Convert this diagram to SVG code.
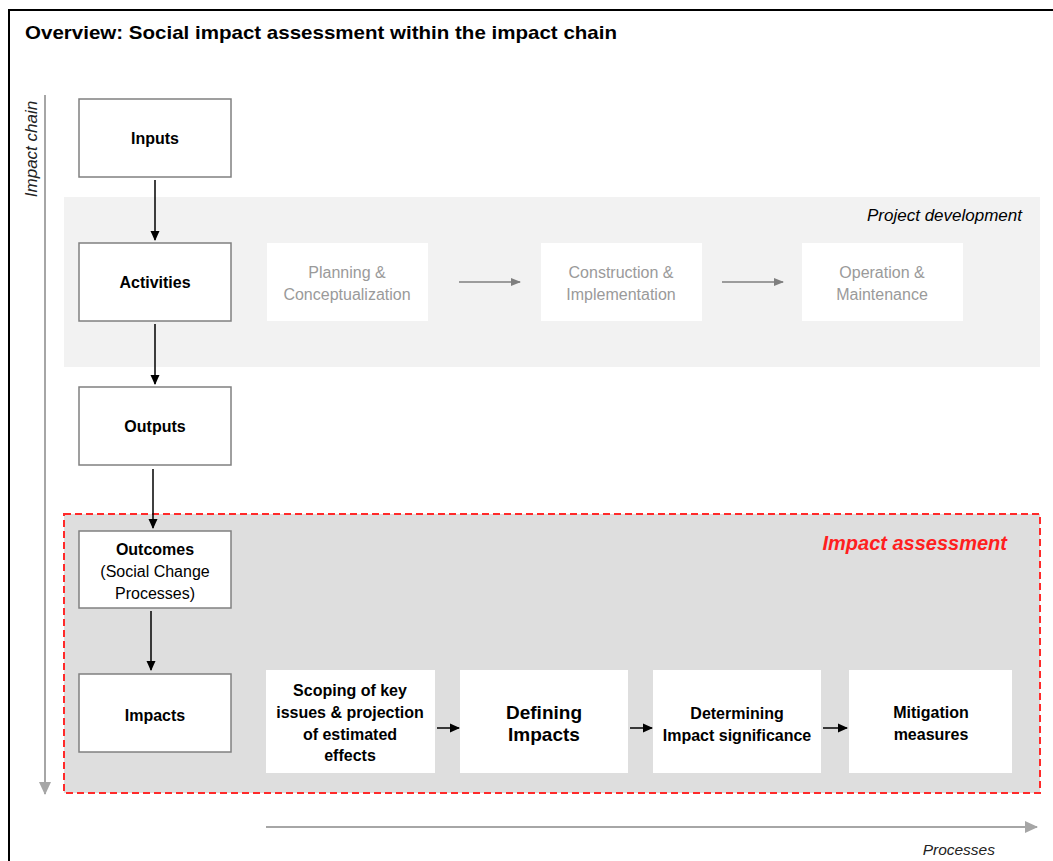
<svg xmlns="http://www.w3.org/2000/svg" width="1053" height="861" viewBox="0 0 1053 861">
<style>
  .box{fill:#fff;stroke:#808080;stroke-width:1.5}
  .wbox{fill:#fff}
  .lbl{font-family:"Liberation Sans",Arial,sans-serif;font-weight:bold;font-size:16px;fill:#000;text-anchor:middle}
  .reg{font-family:"Liberation Sans",Arial,sans-serif;font-size:16px;fill:#000;text-anchor:middle}
  .gray{font-family:"Liberation Sans",Arial,sans-serif;font-size:16px;fill:#9a9a9a;text-anchor:middle}
  .pb{font-family:"Liberation Sans",Arial,sans-serif;font-weight:bold;font-size:16px;fill:#000;text-anchor:middle}
  .pb2{font-family:"Liberation Sans",Arial,sans-serif;font-weight:bold;font-size:19px;fill:#000;text-anchor:middle}
  .ital{font-family:"Liberation Sans",Arial,sans-serif;font-style:italic;font-size:16px;fill:#000}
  .blk{stroke:#000;stroke-width:1.5;fill:none}
  .gry{stroke:#7f7f7f;stroke-width:1.5;fill:none}
  .axis{stroke:#a6a6a6;stroke-width:2;fill:none}
</style>
<defs>
  <marker id="ab" markerUnits="userSpaceOnUse" markerWidth="10" markerHeight="10" refX="9" refY="5" orient="auto">
    <path d="M0,0.5 L10,5 L0,9.5 Z" fill="#000"/>
  </marker>
  <marker id="ag" markerUnits="userSpaceOnUse" markerWidth="10" markerHeight="10" refX="9" refY="5" orient="auto">
    <path d="M0,1 L10,5 L0,9 Z" fill="#7f7f7f"/>
  </marker>
  <marker id="aa" markerUnits="userSpaceOnUse" markerWidth="14" markerHeight="14" refX="12" refY="7" orient="auto">
    <path d="M0,1 L13,7 L0,13 Z" fill="#a6a6a6"/>
  </marker>
</defs>
<rect x="0" y="0" width="1053" height="861" fill="#fff"/>
<rect x="9" y="10" width="1080" height="900" fill="none" stroke="#000" stroke-width="2"/>
<text x="25" y="39" font-family="Liberation Sans, Arial, sans-serif" font-weight="bold" font-size="19" textLength="592" lengthAdjust="spacingAndGlyphs">Overview: Social impact assessment within the impact chain</text>

<g id="project-development">
  <rect x="64" y="197" width="976" height="170" fill="#f2f2f2"/>
  <text class="ital" x="1022" y="221" text-anchor="end" style="font-size:17px">Project development</text>
</g>
<g id="impact-assessment">
  <rect x="64" y="514" width="976" height="279" fill="#dedede" stroke="#ff2a2a" stroke-width="2" stroke-dasharray="7,4"/>
  <text x="1007" y="550" text-anchor="end" font-family="Liberation Sans, Arial, sans-serif" font-weight="bold" font-style="italic" font-size="20" fill="#ff1f1f">Impact assessment</text>
</g>

<g id="axes">
  <line class="axis" x1="45" y1="95" x2="45" y2="794" marker-end="url(#aa)"/>
  <text class="ital" x="0" y="0" transform="translate(37,149) rotate(-90)" text-anchor="middle" style="fill:#222;font-size:17px">Impact chain</text>
  <line class="axis" x1="266" y1="827" x2="1037" y2="827" marker-end="url(#aa)"/>
  <text class="ital" x="995" y="855" text-anchor="end" style="fill:#222;font-size:15.5px">Processes</text>
</g>

<g id="connectors">
  <line class="blk" x1="155" y1="180" x2="155" y2="240" marker-end="url(#ab)"/>
  <line class="blk" x1="155" y1="324" x2="155" y2="384" marker-end="url(#ab)"/>
  <line class="blk" x1="153" y1="469" x2="153" y2="528" marker-end="url(#ab)"/>
  <line class="blk" x1="151" y1="611" x2="151" y2="670" marker-end="url(#ab)"/>
  <line class="gry" x1="459" y1="282" x2="520" y2="282" marker-end="url(#ag)"/>
  <line class="gry" x1="722" y1="282" x2="783" y2="282" marker-end="url(#ag)"/>
  <line class="blk" x1="437" y1="728" x2="459" y2="728" marker-end="url(#ab)"/>
  <line class="blk" x1="630" y1="728" x2="652" y2="728" marker-end="url(#ab)"/>
  <line class="blk" x1="823" y1="728" x2="847" y2="728" marker-end="url(#ab)"/>
</g>

<g id="inputs">
  <rect class="box" x="79" y="99" width="152" height="78"/>
  <text class="lbl" x="155" y="144">Inputs</text>
</g>
<g id="activities">
  <rect class="box" x="79" y="243" width="152" height="78"/>
  <text class="lbl" x="155" y="288">Activities</text>
</g>
<g id="outputs">
  <rect class="box" x="79" y="387" width="152" height="78"/>
  <text class="lbl" x="155" y="432">Outputs</text>
</g>
<g id="outcomes">
  <rect class="box" x="79" y="531" width="152" height="77"/>
  <text class="lbl" x="155" y="555">Outcomes</text>
  <text class="reg" x="155" y="577">(Social Change</text>
  <text class="reg" x="155" y="599">Processes)</text>
</g>
<g id="impacts">
  <rect class="box" x="79" y="674" width="152" height="78"/>
  <text class="lbl" x="155" y="721">Impacts</text>
</g>

<g id="planning">
  <rect class="wbox" x="267" y="243" width="161" height="78"/>
  <text class="gray" x="347" y="278">Planning &amp;</text>
  <text class="gray" x="347" y="300">Conceptualization</text>
</g>
<g id="construction">
  <rect class="wbox" x="541" y="243" width="161" height="78"/>
  <text class="gray" x="621" y="278">Construction &amp;</text>
  <text class="gray" x="621" y="300">Implementation</text>
</g>
<g id="operation">
  <rect class="wbox" x="802" y="243" width="161" height="78"/>
  <text class="gray" x="882" y="278">Operation &amp;</text>
  <text class="gray" x="882" y="300">Maintenance</text>
</g>

<g id="scoping">
  <rect class="wbox" x="266" y="670" width="169" height="103"/>
  <text class="pb" x="350" y="696">Scoping of key</text>
  <text class="pb" x="350" y="718">issues &amp; projection</text>
  <text class="pb" x="350" y="740">of estimated</text>
  <text class="pb" x="350" y="761">effects</text>
</g>
<g id="defining">
  <rect class="wbox" x="460" y="670" width="168" height="103"/>
  <text class="pb2" x="544" y="719">Defining</text>
  <text class="pb2" x="544" y="741">Impacts</text>
</g>
<g id="determining">
  <rect class="wbox" x="653" y="670" width="168" height="103"/>
  <text class="pb" x="737" y="719">Determining</text>
  <text class="pb" x="737" y="741">Impact significance</text>
</g>
<g id="mitigation">
  <rect class="wbox" x="849" y="670" width="163" height="103"/>
  <text class="pb" x="931" y="718">Mitigation</text>
  <text class="pb" x="931" y="740">measures</text>
</g>
</svg>
